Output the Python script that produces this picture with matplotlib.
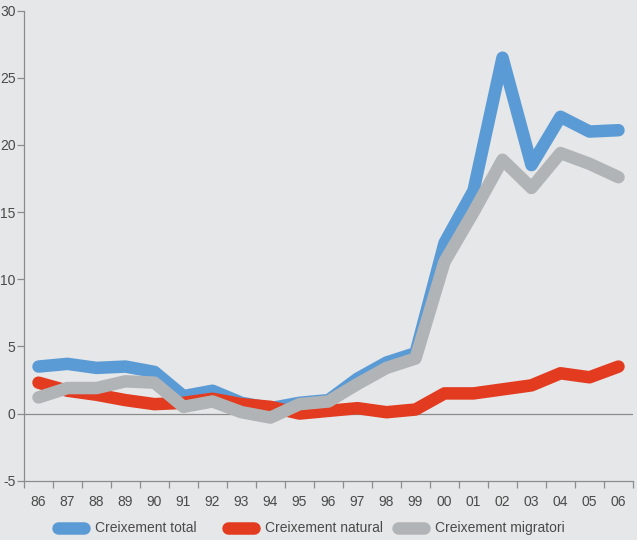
import matplotlib
matplotlib.use("Agg")
import matplotlib.pyplot as plt
from matplotlib.lines import Line2D
import numpy as np

years = ["86", "87", "88", "89", "90", "91", "92", "93", "94", "95", "96",
         "97", "98", "99", "00", "01", "02", "03", "04", "05", "06"]
total = [3.5, 3.7, 3.4, 3.5, 3.1, 1.3, 1.7, 0.8, 0.4, 0.8, 1.0,
         2.6, 3.8, 4.5, 12.7, 16.6, 26.5, 18.5, 22.1, 21.0, 21.1]
natural = [2.3, 1.7, 1.4, 1.0, 0.7, 0.8, 1.1, 0.7, 0.5, 0.0, 0.2,
           0.4, 0.1, 0.3, 1.5, 1.5, 1.8, 2.1, 3.0, 2.7, 3.5]
migratori = [1.2, 1.9, 1.9, 2.4, 2.3, 0.5, 0.9, 0.1, -0.3, 0.7, 0.9,
             2.2, 3.4, 4.1, 11.3, 15.0, 18.9, 16.8, 19.4, 18.6, 17.6]
series_names = ["Creixement total", "Creixement natural", "Creixement migratori"]
colors = ["#5b9bd5", "#e23b1f", "#b1b4b6"]
yticks = [-5, 0, 5, 10, 15, 20, 25, 30]

plt.rcParams['font.family'] = ['Liberation Sans', 'DejaVu Sans']
bg = "#e6e7e9"
txt = "#4a4a4a"
W, H = 637, 540
fig = plt.figure(figsize=(6.37, 5.40), dpi=100, facecolor=bg)
ax = fig.add_axes([24/W, 59.3/H, 609/W, 470/H], facecolor=bg)

x = np.arange(len(years))
lw = 9
for vals, c in zip([total, natural, migratori], colors):
    ax.plot(x, vals, color=c, lw=lw, solid_capstyle='round', solid_joinstyle='round', zorder=3)

ax.axhline(0, color="#8a8c8e", lw=0.9, zorder=2)
ax.set_xlim(-0.5, len(years) - 0.5)
ax.set_ylim(-5, 30)

for s in ['top', 'right']:
    ax.spines[s].set_visible(False)
for s in ['left', 'bottom']:
    ax.spines[s].set_color("#8a8c8e")
    ax.spines[s].set_linewidth(0.9)

ax.set_yticks(yticks)
ax.set_yticklabels([str(v) for v in yticks])
ax.set_xticks(np.arange(len(years) + 1) - 0.5)
ax.set_xticklabels([])
ax.set_xticks(x, minor=True)
ax.set_xticklabels(years, minor=True)
ax.tick_params(axis='x', which='major', length=5, color="#8a8c8e", width=0.9)
ax.tick_params(axis='x', which='minor', length=0, pad=10, labelsize=10, labelcolor=txt)
ax.tick_params(axis='y', length=5, color="#8a8c8e", width=0.9, pad=1, labelsize=10, labelcolor=txt)

# legend drawn manually at the bottom
leg_y = 12 / H
starts = [58, 228, 398]
for c, name, x0 in zip(colors, series_names, starts):
    fig.add_artist(Line2D([x0 / W, (x0 + 26) / W], [leg_y, leg_y], color=c, lw=lw,
                          solid_capstyle='round', transform=fig.transFigure))
    fig.text((x0 + 37) / W, leg_y, name, fontsize=10, color=txt, va='center', ha='left')

fig.savefig("out.png", dpi=100, facecolor=bg)
